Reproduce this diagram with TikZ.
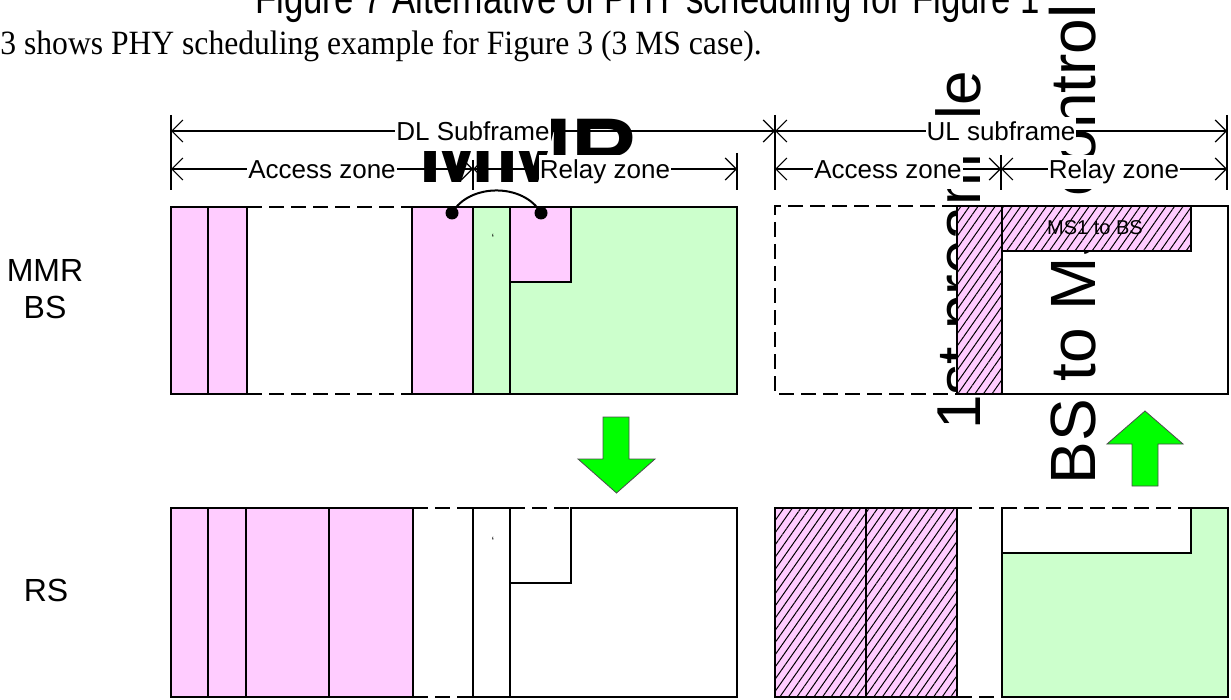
\documentclass[tikz,border=0pt]{standalone}
\usepackage{fontspec}
\setmainfont{Liberation Sans}
\newfontfamily\serifpart{Liberation Serif}
\usetikzlibrary{arrows.meta,patterns.meta}
\definecolor{pinkc}{RGB}{255,204,255}
\definecolor{greenc}{RGB}{204,255,204}
\definecolor{garr}{RGB}{0,255,0}
\tikzset{
  box/.style={draw=black, line width=1pt},
  dsh/.style={draw=black, line width=1pt, dash pattern=on 7.5pt off 3.5pt},
  dim/.style={line width=0.6pt, {Straight Barb[length=5.5pt,width=11pt]}-{Straight Barb[length=5.5pt,width=11pt]}},
  tick/.style={line width=0.6pt},
  lbl/.style={fill=white, inner sep=0.5pt, font=\fontsize{13pt}{15.6pt}\selectfont},
  rowlbl/.style={inner sep=0pt, align=center, font=\fontsize{16pt}{18.5pt}\selectfont},
  hatch/.style={preaction={fill=pinkc}, pattern={Lines[angle=55,distance=3.5pt,line width=0.5pt]}, pattern color=black, draw=black, line width=1pt},
  garrow/.style={fill=garr, draw=black!70, line width=0.4pt},
  dot/.style={circle, fill=black, inner sep=0pt, minimum size=6.5pt},
  bigtxt/.style={inner sep=0pt, text=black}
}
\begin{document}
\begin{tikzpicture}[x=0.5pt,y=0.5pt]
\useasboundingbox (0,0) rectangle (1231,-700);
\clip (0,0) rectangle (1231,-700);

% heading texts (cut by the top edge, as in the reference)
\node[bigtxt, anchor=base west, xscale=0.79, font=\fontsize{22pt}{26pt}\selectfont] (ttl) at (255,-14) {Figure 7 Alternative of PHY scheduling for Figure 1};
\node[bigtxt, anchor=base west, xscale=0.93, font=\serifpart\fontsize{17pt}{20pt}\selectfont] (sub) at (0,-55) {3 shows PHY scheduling example for Figure 3 (3 MS case).};

% large overlaid texts
\node[bigtxt, anchor=base west, font=\bfseries\fontsize{46pt}{50pt}\selectfont] (mmrbig) at (418,-183) {MMR};
\node[bigtxt, rotate=90, anchor=base west, font=\fontsize{31pt}{36pt}\selectfont] (pre) at (980,-430) {1st preamble};
\node[bigtxt, rotate=90, anchor=base west, font=\fontsize{32pt}{37pt}\selectfont] (ctl) at (1095,-485) {BS to MS control};

% dimension coordinates
\coordinate (dlL) at (171,-131);
\coordinate (dlR) at (775,-131);
\coordinate (ulR) at (1227,-131);
\coordinate (a1L) at (171,-169);
\coordinate (a1R) at (473,-169);
\coordinate (r1R) at (737,-169);
\coordinate (a2L) at (775,-169);
\coordinate (a2R) at (1001,-169);
\coordinate (r2R) at (1227,-169);

% ticks
\draw[tick] (171,-115) -- (171,-190);
\draw[tick] (473,-160) -- (473,-190);
\draw[tick] (737,-153) -- (737,-190);
\draw[tick] (775,-115) -- (775,-190);
\draw[tick] (1001,-155) -- (1001,-190);
\draw[tick] (1227,-115) -- (1227,-190);

% dimension lines
\draw[dim] (dlL) -- (dlR);
\draw[dim] (dlR) -- (ulR);
\draw[dim] (a1L) -- (a1R);
\draw[dim] (a1R) -- (r1R);
\draw[dim] (a2L) -- (a2R);
\draw[dim] (a2R) -- (r2R);

\node[lbl] (ldl) at (473,-134) {\strut DL Subframe};
\node[lbl] (lul) at (1001,-134) {\strut UL subframe};
\node[lbl] (lac1) at (322,-172) {\strut Access zone};
\node[lbl] (lre1) at (605,-172) {\strut Relay zone};
\node[lbl] (lac2) at (888,-172) {\strut Access zone};
\node[lbl] (lre2) at (1114,-172) {\strut Relay zone};

% row labels
\node[rowlbl] (mmrbs) at (45,-289) {MMR\\BS};
\node[rowlbl] (rs) at (46,-590) {RS};

% ---------- MMR BS, DL ----------
\fill[pinkc] (171,-207) rectangle (247,-394);
\draw[box] (171,-207) rectangle (208,-394);
\draw[box] (208,-207) rectangle (247,-394);
\draw[dsh] (247,-207) -- (412,-207);
\draw[dsh] (247,-394) -- (412,-394);
\fill[greenc] (412,-207) rectangle (737,-394);
\fill[pinkc] (412,-207) rectangle (473,-394);
\fill[pinkc] (510,-207) rectangle (571,-282);
\draw[box] (412,-207) rectangle (737,-394);
\draw[box] (473,-207) -- (473,-394);
\draw[box] (510,-207) -- (510,-394);
\draw[box] (510,-282) -- (571,-282) -- (571,-207);
\node[bigtxt, font=\fontsize{6pt}{7pt}\selectfont] (q1) at (493,-238) {‘};

% arc with dots
\node[dot] (d1) at (452,-213) {};
\node[dot] (d2) at (541,-213) {};
\draw[line width=1pt] (d1.center) to[out=60,in=120] (d2.center);

% ---------- MMR BS, UL ----------
\draw[dsh] (957,-206) -- (775,-206) -- (775,-394) -- (957,-394);
\path[hatch] (957,-206) rectangle (1002,-394);
\draw[box] (1002,-206) rectangle (1228,-394);
\path[hatch] (1002,-206) rectangle (1191,-251);
\node[bigtxt, font=\fontsize{10pt}{12pt}\selectfont] (ms1) at (1095,-228) {MS1 to BS};

% ---------- RS, DL ----------
\fill[pinkc] (171,-508) rectangle (413,-697);
\draw[box] (171,-508) rectangle (208,-697);
\draw[box] (208,-508) rectangle (246,-697);
\draw[box] (246,-508) rectangle (329,-697);
\draw[box] (329,-508) rectangle (413,-697);
\draw[dsh] (413,-508) -- (473,-508);
\draw[dsh] (413,-697) -- (473,-697);
\draw[box] (473,-508) rectangle (510,-697);
\draw[dsh] (510,-508) -- (571,-508);
\draw[box] (510,-508) -- (510,-583) -- (571,-583) -- (571,-508) -- (737,-508) -- (737,-697) -- (510,-697);
\node[bigtxt, font=\fontsize{6pt}{7pt}\selectfont] (q2) at (493,-541) {‘};

% ---------- RS, UL ----------
\path[hatch] (775,-508) rectangle (866,-697);
\path[hatch] (866,-508) rectangle (957,-697);
\draw[dsh] (957,-508) -- (1002,-508);
\draw[dsh] (957,-697) -- (1002,-697);
\fill[greenc] (1002,-508) rectangle (1228,-697);
\fill[white] (1002,-508) rectangle (1191,-553);
\draw[dsh] (1002,-508) -- (1191,-508);
\draw[box] (1002,-508) -- (1002,-697) -- (1228,-697) -- (1228,-508) -- (1191,-508) -- (1191,-553) -- (1002,-553);

% ---------- green arrows ----------
\draw[garrow] (603,-417) -- (629,-417) -- (629,-459) -- (655,-459) -- (616.5,-493) -- (578,-459) -- (603,-459) -- cycle;
\draw[garrow] (1132,-486) -- (1158,-486) -- (1158,-444) -- (1183,-444) -- (1145,-411) -- (1107,-444) -- (1132,-444) -- cycle;
\end{tikzpicture}
\end{document}
